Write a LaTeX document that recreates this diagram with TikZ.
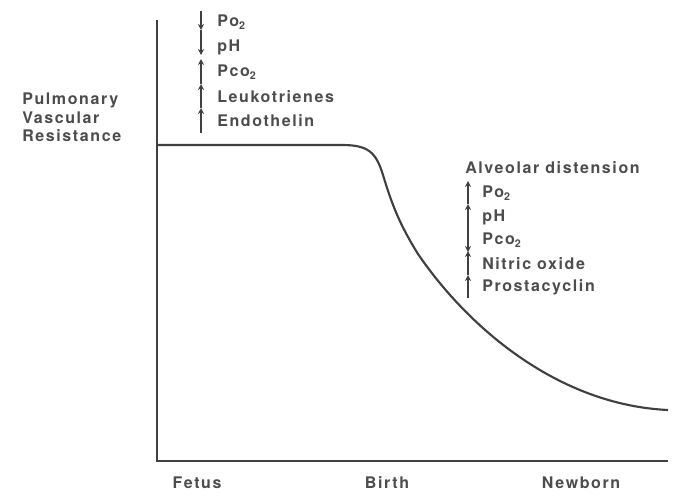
\documentclass[tikz,border=0pt]{standalone}
\usepackage{fontspec}
\setmainfont{TeX Gyre Heros}[LetterSpace=10]
\usepackage{tikz}
\usetikzlibrary{arrows.meta}

\definecolor{inkgray}{gray}{0.25}
\definecolor{txtgray}{gray}{0.3}

\tikzset{
  lbl/.style={anchor=west,inner sep=0.75pt,text=txtgray,font=\bfseries\fontsize{12}{13}\selectfont},
  uparr/.style={draw=inkgray,line width=0.9pt,-{Stealth[length=4.5pt,width=4.5pt]}},
  curveline/.style={draw=inkgray,line width=1.6pt},
}

\begin{document}
\begin{tikzpicture}[x=0.75pt,y=0.75pt,yscale=-1,xscale=1]
        \useasboundingbox (0,0) rectangle (692,497);

        %Shape: Axis 2D
        \draw [curveline]  (157,20) -- (157,461) -- (668,461) ;
        %Curve
        \draw [curveline]  (157,145) -- (342,145) .. controls (368,145) and (376,152) .. (383,175) .. controls (392,205) and (400,225) .. (418,254) .. controls (470,330) and (560,405) .. (668,410) ;

        % Text Node
        \draw (21,100) node [lbl] (pulm) {Pulmonary};
        % Text Node
        \draw (21,118) node [lbl] (vasc) {Vascular};
        % Text Node
        \draw (21,136) node [lbl] (resi) {Resistance};

        % Text Node
        \draw (216,22) node [lbl] (lpo) {Po\textsubscript{2}};
        % Text Node
        \draw (216,47) node [lbl] (lph) {pH};
        % Text Node
        \draw (216,72) node [lbl] (lpco) {Pco\textsubscript{2}};
        % Text Node
        \draw (216,97) node [lbl] (lleuk) {Leukotrienes};
        % Text Node
        \draw (216,121) node [lbl] (lendo) {Endothelin};

        % Text Node
        \draw (464,168) node [lbl] (alv) {Alveolar distension};
        % Text Node
        \draw (481,193) node [lbl] (rpo) {Po\textsubscript{2}};
        % Text Node
        \draw (481,217) node [lbl] (rph) {pH};
        % Text Node
        \draw (481,240) node [lbl] (rpco) {Pco\textsubscript{2}};
        % Text Node
        \draw (481,264) node [lbl] (rno) {Nitric oxide};
        % Text Node
        \draw (481,287) node [lbl] (rpgi) {Prostacyclin};

        % Text Node
        \draw (197,483) node [lbl,anchor=center] (fetus) {Fetus};
        % Text Node
        \draw (387,483) node [lbl,anchor=center] (birth) {Birth};
        % Text Node
        \draw (581,483) node [lbl,anchor=center] (newb) {Newborn};

        %Arrows left
        \draw [uparr] (201,11) -- (201,30) ;
        \draw [uparr] (201,30) -- (201,55) ;
        \draw [uparr] (201,84) -- (201,59) ;
        \draw [uparr] (201,108) -- (201,84) ;
        \draw [uparr] (201,133) -- (201,108) ;
        %Arrows right
        \draw [uparr] (468,204) -- (468,181) ;
        \draw [uparr] (468,228) -- (468,204) ;
        \draw [uparr] (468,228) -- (468,252) ;
        \draw [uparr] (468,275) -- (468,251) ;
        \draw [uparr] (468,298) -- (468,275) ;

    \end{tikzpicture}
\end{document}
